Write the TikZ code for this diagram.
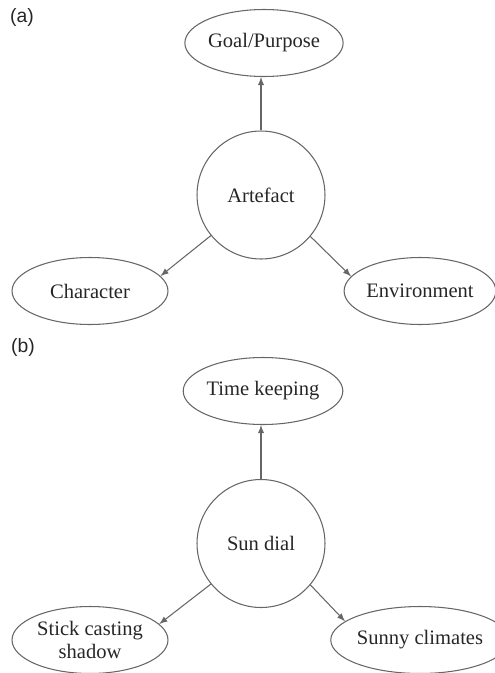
\documentclass[tikz,border=0pt]{standalone}
\usepackage{fontspec}
\setmainfont{Liberation Serif}
\newfontfamily\panelfont{Liberation Sans}
\usepackage{tikz}
\usetikzlibrary{shapes.geometric}

\tikzset{
	bubble/.style={draw=black!60, line width=0.6pt, ellipse, inner sep=0pt,
		text=black!85, font=\fontsize{11.7}{13.5}\selectfont, align=center},
	hub/.style={bubble, circle, minimum size=2.56cm},
	leaf/.style={bubble, minimum width=3.12cm, minimum height=1.34cm},
	link/.style={draw=black!60, line width=0.6pt, -latex},
	panel/.style={font=\panelfont\fontsize{11}{13}\selectfont, text=black!85}
}

\begin{document}
\begin{tikzpicture}[x=0.02cm, y=-0.02cm]
	
	% fix the page to the size of the reference
	\useasboundingbox (0,0) rectangle (494,673);
	
	%%%%%%%%%%%%%%%%%%%%%%%%%%%%%%%%%%%%%%%%%%%%%%%%%%%%%%%%%%%%%%
	% (a) the general scheme
	\node[panel] (LA) at (22,17) {(a)};
	
	\node[hub]  (Art)  at (261,195) {Artefact};
	\node[leaf] (Goal) at (264,43)  {Goal/Purpose};
	\node[leaf] (Char) at (90,291)  {Character};
	\node[leaf, minimum width=2.96cm] (Env) at (420,291) {Environment};
	
	\draw[link] (Art.north) -- (Art.north |- Goal.south);
	\draw[link] (Art.219) -- (Char.12);
	\draw[link] (Art.-40) -- (Env.168);
	
	%%%%%%%%%%%%%%%%%%%%%%%%%%%%%%%%%%%%%%%%%%%%%%%%%%%%%%%%%%%%%%
	% (b) the sun dial
	\node[panel] (LB) at (23,347) {(b)};
	
	\node[hub]  (Dial)  at (261,543.5) {Sun dial};
	\node[leaf] (Time)  at (263,391)   {Time keeping};
	\node[leaf] (Stick) at (90,640)    {Stick casting\\shadow};
	\node[leaf, minimum width=2.96cm] (Sunny) at (420,640) {Sunny climates};
	
	\draw[link] (Dial.north) -- (Dial.north |- Time.south);
	\draw[link] (Dial.219) -- (Stick.13);
	\draw[link] (Dial.-40) -- (Sunny.166);
	
\end{tikzpicture}
\end{document}
